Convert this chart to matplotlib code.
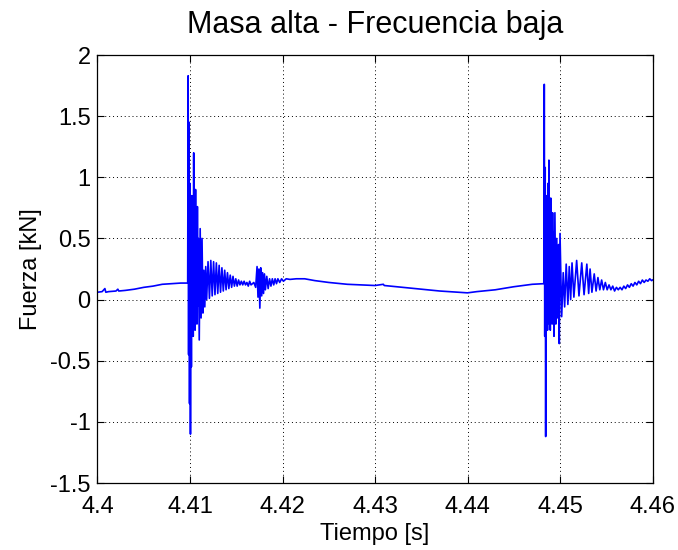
import numpy as np
import matplotlib
matplotlib.use('Agg')
import matplotlib.pyplot as plt

# approach to first impact
t_pre = [4.4000, 4.4005, 4.4008, 4.4009, 4.4012, 4.4020, 4.4022, 4.4023, 4.4030, 4.4040,
         4.4050, 4.4060, 4.4070, 4.4080, 4.4090, 4.40975]
f_pre = [0.06, 0.065, 0.09, 0.06, 0.065, 0.07, 0.085, 0.07, 0.075, 0.085,
         0.10, 0.11, 0.125, 0.13, 0.135, 0.135]

# first impact and its ringing
t_hit1 = [4.40980, 4.40985, 4.40990, 4.40995, 4.41000, 4.41005, 4.41010, 4.41015, 4.41020, 4.41025,
          4.41030, 4.41035, 4.41040, 4.41045, 4.41050, 4.41055, 4.41060, 4.41065, 4.41070, 4.41075,
          4.41080, 4.41085, 4.41090, 4.41100, 4.41110, 4.41120, 4.41130, 4.41140, 4.41150, 4.41160,
          4.41170, 4.41180, 4.41195, 4.41210, 4.41225, 4.41240, 4.41255, 4.41270, 4.41285, 4.41300,
          4.41315, 4.41330, 4.41345, 4.41360, 4.41375, 4.41390, 4.41405, 4.41420, 4.41435, 4.41450,
          4.41465, 4.41480, 4.41495, 4.41510, 4.41525, 4.41540, 4.41555, 4.41570, 4.41585, 4.41600,
          4.41615, 4.41630, 4.41645, 4.41660, 4.41690, 4.41710]
f_hit1 = [1.83, -0.45, 1.45, -0.85, 0.95, -1.10, 0.55, -0.55, 0.85, -0.25,
          0.70, -0.30, 1.20, -0.15, 0.75, -0.25, 0.90, -0.05, 0.65, -0.20,
          0.76, -0.05, 0.50, -0.33, 0.58, -0.15, 0.50, -0.11, 0.24, -0.06,
          0.27, 0.00, 0.31, 0.01, 0.32, 0.03, 0.31, 0.04, 0.30, 0.05,
          0.28, 0.06, 0.26, 0.07, 0.24, 0.08, 0.22, 0.09, 0.20, 0.10,
          0.19, 0.11, 0.17, 0.11, 0.16, 0.12, 0.15, 0.12, 0.15, 0.12,
          0.14, 0.11, 0.15, 0.12, 0.14, 0.10]

# small secondary burst
t_burst = [4.41725, 4.41735, 4.41745, 4.41755, 4.41765, 4.41775, 4.41785, 4.41795, 4.41805, 4.41815,
           4.41830, 4.41845, 4.41860, 4.41875, 4.41890, 4.41905, 4.41920, 4.41935, 4.41950, 4.41970,
           4.41990, 4.42010]
f_burst = [0.27, 0.02, 0.25, -0.07, 0.26, 0.03, 0.22, 0.05, 0.21, 0.08,
           0.19, 0.09, 0.17, 0.11, 0.17, 0.12, 0.17, 0.13, 0.17, 0.14,
           0.17, 0.15]

# slow swing between impacts
t_mid = [4.42040, 4.42080, 4.42150, 4.42240, 4.42350, 4.42500, 4.42700, 4.43000, 4.43090, 4.43100,
         4.43300, 4.43500, 4.43700, 4.43900, 4.44000, 4.44100, 4.44300, 4.44500, 4.44700, 4.44825]
f_mid = [0.17, 0.165, 0.17, 0.17, 0.155, 0.14, 0.125, 0.115, 0.125, 0.115,
         0.10, 0.085, 0.07, 0.06, 0.055, 0.065, 0.08, 0.105, 0.125, 0.13]

# second impact and its ringing
t_hit2 = [4.44830, 4.44835, 4.44840, 4.44845, 4.44850, 4.44855, 4.44860, 4.44865, 4.44870, 4.44875,
          4.44880, 4.44885, 4.44890, 4.44895, 4.44900, 4.44905, 4.44910, 4.44915, 4.44920, 4.44925,
          4.44930, 4.44935, 4.44945, 4.44955, 4.44965, 4.44975, 4.44985, 4.44992, 4.45000, 4.45018,
          4.45035, 4.45050, 4.45067, 4.45085, 4.45100, 4.45115, 4.45130, 4.45150, 4.45180, 4.45205,
          4.45235, 4.45260, 4.45290, 4.45310, 4.45325, 4.45345, 4.45370, 4.45390, 4.45410, 4.45430,
          4.45450, 4.45470, 4.45490, 4.45510, 4.45530, 4.45550, 4.45570, 4.45590, 4.45610, 4.45630,
          4.45650, 4.45670, 4.45690, 4.45710, 4.45730, 4.45750, 4.45770, 4.45790, 4.45810, 4.45830,
          4.45850, 4.45870, 4.45890, 4.45910, 4.45930, 4.45950, 4.45970, 4.45990, 4.46000]
f_hit2 = [1.76, -0.30, 1.08, -1.12, 0.60, -0.20, 0.85, -0.25, 0.95, -0.15,
          1.14, -0.20, 0.70, -0.25, 0.83, -0.10, 0.60, -0.20, 0.71, -0.05,
          0.55, -0.30, 0.71, -0.20, 0.50, -0.15, 0.45, -0.36, 0.54, -0.14,
          0.22, -0.06, 0.29, -0.04, 0.27, 0.00, 0.30, 0.02, 0.32, 0.03,
          0.30, 0.04, 0.29, 0.05, 0.25, 0.06, 0.21, 0.07, 0.18, 0.08,
          0.16, 0.08, 0.14, 0.08, 0.12, 0.08, 0.11, 0.07, 0.10, 0.08,
          0.10, 0.08, 0.11, 0.09, 0.12, 0.10, 0.13, 0.11, 0.14, 0.12,
          0.15, 0.13, 0.16, 0.14, 0.16, 0.15, 0.17, 0.155, 0.16]

x_ticks = [4.40, 4.41, 4.42, 4.43, 4.44, 4.45, 4.46]
x_labels = ['4.4', '4.41', '4.42', '4.43', '4.44', '4.45', '4.46']
y_ticks = [-1.5, -1, -0.5, 0, 0.5, 1, 1.5, 2]
y_labels = ['-1.5', '-1', '-0.5', '0', '0.5', '1', '1.5', '2']

plt.rcParams['font.family'] = ['Liberation Sans', 'DejaVu Sans']

tiempo = np.concatenate([t_pre, t_hit1, t_burst, t_mid, t_hit2])
fuerza = np.concatenate([f_pre, f_hit1, f_burst, f_mid, f_hit2])

fig = plt.figure(figsize=(6.78, 5.5), dpi=100)
ax = fig.add_axes([0.1438, 0.1218, 0.8186, 0.7782])
ax.plot(tiempo, fuerza, color='#0000ff', linewidth=1.2)

ax.set_xlim(4.40, 4.46)
ax.set_ylim(-1.5, 2)
ax.set_xticks(x_ticks)
ax.set_xticklabels(x_labels)
ax.set_yticks(y_ticks)
ax.set_yticklabels(y_labels)
ax.tick_params(direction='in', length=5, width=0.8, top=True, right=True,
               labelsize=17, colors='black')
ax.tick_params(axis='x', pad=9)
ax.tick_params(axis='y', pad=5)
ax.grid(True, color='black', linestyle=(0, (1, 3)), linewidth=0.7)
for s in ax.spines.values():
    s.set_linewidth(0.9)

ax.set_title('Masa alta - Frecuencia baja', fontsize=22, pad=16)
ax.set_xlabel('Tiempo [s]', fontsize=17, labelpad=4)
ax.set_ylabel('Fuerza [kN]', fontsize=17, labelpad=6)

fig.savefig('out.png', dpi=100, facecolor='white')
